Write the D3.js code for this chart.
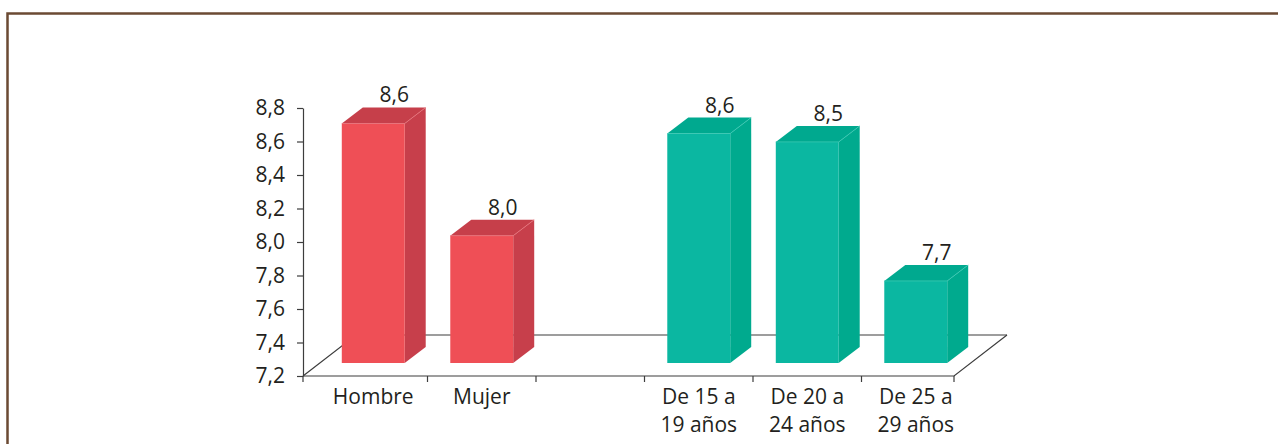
<!DOCTYPE html>
<html>
<head>
<meta charset="utf-8">
<script src="https://cdn.jsdelivr.net/npm/d3@7"></script>
<style>
    html, body { margin: 0; padding: 0; background: #fff; }
    svg { display: block; }
    text { font-family: "Open Sans", sans-serif; fill: #231f20; }
</style>
</head>
<body>
<svg id="chart"></svg>
<script>
// --- Data ---
const categories = ["Hombre", "Mujer", "", "De 15 a\n19 años", "De 20 a\n24 años", "De 25 a\n29 años"];
const values = [8.63, 7.96, null, 8.57, 8.52, 7.69];
const groups = ["sexo", "sexo", null, "edad", "edad", "edad"];
const yTicks = [7.2, 7.4, 7.6, 7.8, 8.0, 8.2, 8.4, 8.6, 8.8];

const palette = {
    sexo: { front: "#ef4f56", side: "#c73f4b", top: "#c63f4a", edge: "#e8737b" },
    edad: { front: "#0bb7a1", side: "#00aa8e", top: "#00a98f", edge: "#3cc9b4" }
};

// --- Sizing ---
const width = 1278, height = 444;
const fontSize = 21;
const svg = d3.select("#chart").attr("width", width).attr("height", height);

// --- Scales ---
const x = d3.scaleBand()
    .domain(categories)
    .range([303, 954])
    .paddingInner(0.42)
    .paddingOuter(0.21);

const y = d3.scaleLinear()
    .domain([7.2, 8.8])
    .range([376, 108]);

const fmt = v => d3.format(".1f")(v).replace(".", ",");

// 3D geometry
const floorDepth = { dx: 53, dy: -41 };
const barOffset = { dx: 16, dy: -13 };
const barDepth = { dx: 21, dy: -16 };

// --- Frame ---
svg.append("path")
    .attr("d", `M7.5,${height} V13.5 H${width}`)
    .attr("fill", "none")
    .attr("stroke", "#6b4a33")
    .attr("stroke-width", 2.5);

// --- Floor (back part, behind the bars) ---
const x0 = x.range()[0], x1 = x.range()[1], yb = y(7.2);
svg.append("path")
    .attr("fill", "none")
    .attr("stroke", "#3d3d3d")
    .attr("stroke-width", 1.2)
    .attr("d", `M${x0},${yb} L${x0 + floorDepth.dx},${yb + floorDepth.dy} H${x1 + floorDepth.dx}`);

// --- Bars ---
const barData = categories
    .map((c, i) => ({ cat: c, value: values[i], group: groups[i] }))
    .filter(d => d.value !== null);

const bars = svg.append("g").selectAll("g")
    .data(barData)
    .join("g");

bars.each(function (d) {
    const g = d3.select(this);
    const c = palette[d.group];
    const left = x(d.cat) + barOffset.dx;
    const right = left + x.bandwidth();
    const bottom = yb + barOffset.dy;
    const top = y(d.value) + barOffset.dy;
    const dx = barDepth.dx, dy = barDepth.dy;

    // side face
    g.append("path")
        .attr("fill", c.side)
        .attr("d", `M${right},${top} L${right + dx},${top + dy} L${right + dx},${bottom + dy} L${right},${bottom} Z`);
    // top face
    g.append("path")
        .attr("fill", c.top)
        .attr("d", `M${left},${top} L${left + dx},${top + dy} L${right + dx},${top + dy} L${right},${top} Z`);
    // front face
    g.append("rect")
        .attr("x", left)
        .attr("y", top)
        .attr("width", right - left)
        .attr("height", bottom - top)
        .attr("fill", c.front);
    // light edges
    g.append("path")
        .attr("fill", "none")
        .attr("stroke", c.edge)
        .attr("stroke-width", 0.8)
        .attr("d", `M${left},${top} H${right} L${right + dx},${top + dy}`);

    // value label
    g.append("text")
        .attr("x", (left + right) / 2 + dx)
        .attr("y", top + dy - 5)
        .attr("text-anchor", "middle")
        .attr("font-size", fontSize)
        .text(fmt(d.value));
});

// --- Floor (front part) ---
const floorFront = svg.append("g")
    .attr("fill", "none")
    .attr("stroke", "#3d3d3d")
    .attr("stroke-width", 1.2);

floorFront.append("path")
    .attr("d", `M${x0},${yb} H${x1} L${x1 + floorDepth.dx},${yb + floorDepth.dy}`);

// x ticks: between bars (shifted by bar offset), plus ends
const xTickPos = [x0].concat(
    categories.slice(1).map(c => x(c) - x.step() * x.paddingInner() / 2 + barOffset.dx),
    [x1]
);
floorFront.selectAll("line.xt")
    .data(xTickPos)
    .join("line")
    .attr("class", "xt")
    .attr("x1", d => d).attr("x2", d => d)
    .attr("y1", yb).attr("y2", yb + 6);

// x labels
const xLabels = svg.append("g").attr("text-anchor", "middle").attr("font-size", fontSize);
categories.forEach(c => {
    if (!c) return;
    const cx = x(c) + x.bandwidth() / 2 + barOffset.dx;
    const t = xLabels.append("text")
        .attr("x", cx)
        .attr("y", 404);
    c.split("\n").forEach((line, k) => {
        t.append("tspan")
            .attr("x", cx)
            .attr("dy", k === 0 ? 0 : 28)
            .text(line);
    });
});

// --- Y axis ---
const yAxis = svg.append("g")
    .attr("transform", `translate(${x0},0)`)
    .call(d3.axisLeft(y).tickValues(yTicks).tickSize(6).tickSizeOuter(0).tickFormat(fmt).tickPadding(12));

yAxis.select(".domain").attr("stroke", "#3d3d3d").attr("stroke-width", 1.2);
yAxis.selectAll(".tick line").attr("stroke", "#3d3d3d").attr("stroke-width", 1.2);
yAxis.selectAll(".tick text")
    .attr("font-size", fontSize)
    .attr("font-family", "'Open Sans', sans-serif")
    .attr("fill", "#231f20");
</script>
</body>
</html>
